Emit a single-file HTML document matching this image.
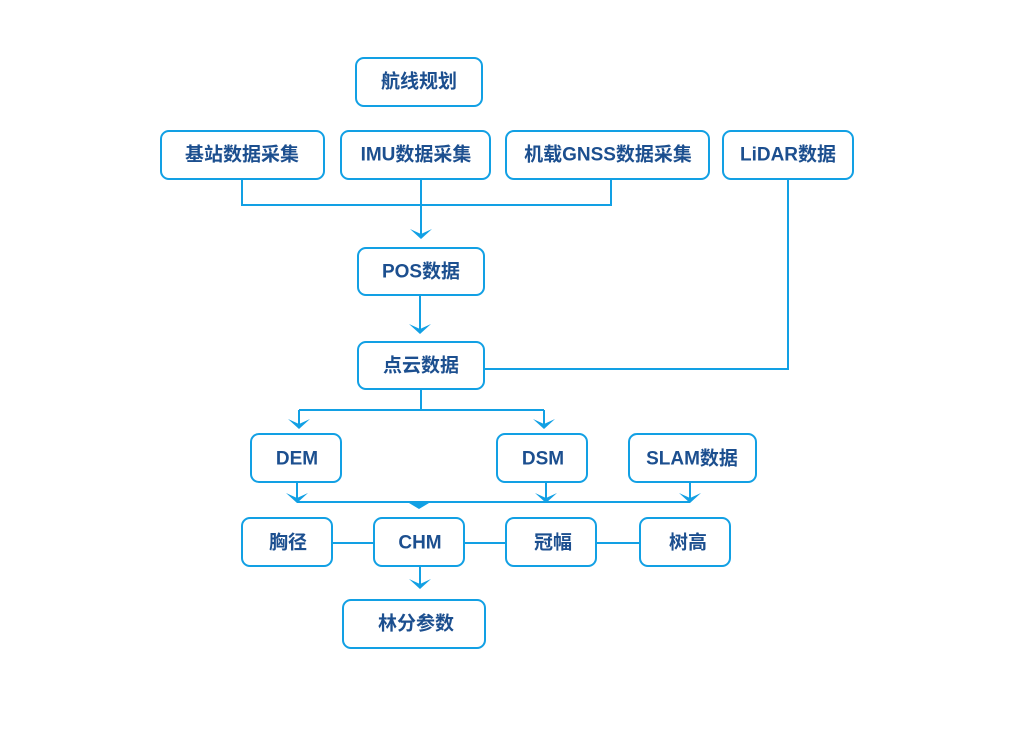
<!DOCTYPE html>
<html><head><meta charset="utf-8"><style>
body{margin:0;background:#fff}
text{font-family:"Liberation Sans","Noto Sans CJK SC",sans-serif;font-weight:bold;font-size:19px;fill:#1c4f8f;text-anchor:middle;dominant-baseline:central}
</style></head><body>
<svg width="1012" height="726" xmlns="http://www.w3.org/2000/svg">
<g fill="none" stroke="#12a0e4" stroke-width="2">
<rect x="356" y="58" width="126" height="48" rx="8"/>
<rect x="161" y="131" width="163" height="48" rx="8"/>
<rect x="341" y="131" width="149" height="48" rx="8"/>
<rect x="506" y="131" width="203" height="48" rx="8"/>
<rect x="723" y="131" width="130" height="48" rx="8"/>
<rect x="358" y="248" width="126" height="47" rx="8"/>
<rect x="358" y="342" width="126" height="47" rx="8"/>
<rect x="251" y="434" width="90" height="48" rx="8"/>
<rect x="497" y="434" width="90" height="48" rx="8"/>
<rect x="629" y="434" width="127" height="48" rx="8"/>
<rect x="242" y="518" width="90" height="48" rx="8"/>
<rect x="374" y="518" width="90" height="48" rx="8"/>
<rect x="506" y="518" width="90" height="48" rx="8"/>
<rect x="640" y="518" width="90" height="48" rx="8"/>
<rect x="343" y="600" width="142" height="48" rx="8"/>
<path d="M242 179V205H611V179M421 179V236M420 295V330M484 369H788V179M421 389V410M299 410H544M299 410V426M544 410V426M297 482V500M546 482V500M690 482V500M297 502H690M420 566V586M332 543H374M464 543H506M596 543H640"/>
</g>
<g fill="#12a0e4">
<path d="M410 229L421 239L432 229L421 234Z"/>
<path d="M409 324L420 334L431 324L420 329Z"/>
<path d="M288 419L299 429L310 419L299 424Z"/>
<path d="M533 419L544 429L555 419L544 424Z"/>
<path d="M286 493L297 503L308 493L297 498Z"/>
<path d="M535 493L546 503L557 493L546 498Z"/>
<path d="M679 493L690 503L701 493L690 498Z"/>
<path d="M409 503L419 509L429 503Z"/>
<path d="M409 579L420 589L431 579L420 584Z"/>
</g>
<text x="419" y="82">航线规划</text>
<text x="242" y="155">基站数据采集</text>
<text x="416" y="155">IMU数据采集</text>
<text x="608" y="155">机载GNSS数据采集</text>
<text x="788" y="155">LiDAR数据</text>
<text x="421" y="272">POS数据</text>
<text x="421" y="366">点云数据</text>
<text x="297" y="459">DEM</text>
<text x="543" y="459">DSM</text>
<text x="692" y="459">SLAM数据</text>
<text x="288" y="543">胸径</text>
<text x="420" y="543">CHM</text>
<text x="553" y="543">冠幅</text>
<text x="688" y="543">树高</text>
<text x="416" y="624">林分参数</text>
</svg>
</body></html>
